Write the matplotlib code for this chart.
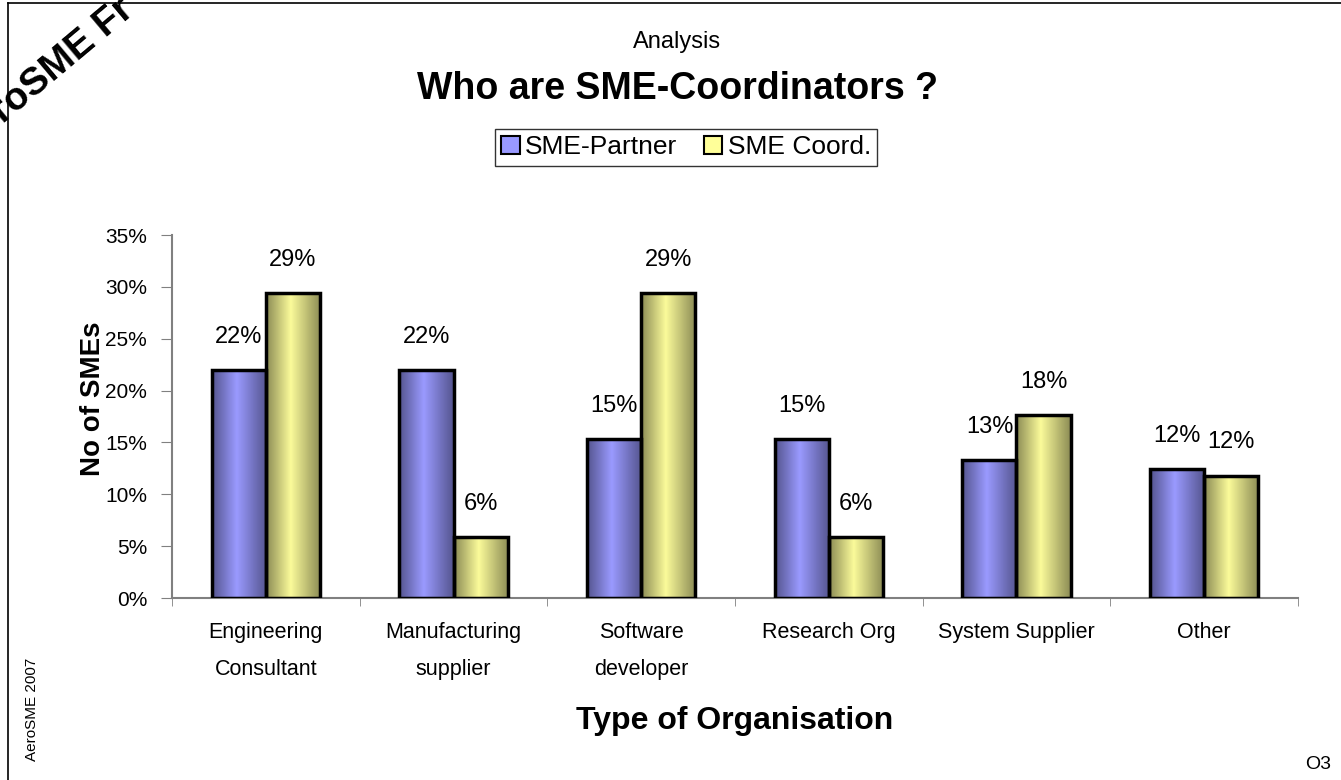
#!/usr/bin/env python3
"""Who are SME-Coordinators ?"""
import numpy as np
import matplotlib.pyplot as plt
from matplotlib.colors import LinearSegmentedColormap
from matplotlib.lines import Line2D
from matplotlib.patches import Patch

plt.rcParams['font.family'] = ['Liberation Sans', 'DejaVu Sans']

categories = ['Engineering\nConsultant', 'Manufacturing\nsupplier',
              'Software\ndeveloper', 'Research Org', 'System Supplier',
              'Other']
partner = [0.220, 0.220, 0.153, 0.153, 0.133, 0.124]
coord = [0.294, 0.059, 0.294, 0.059, 0.176, 0.118]
series_names = ['SME-Partner', 'SME Coord.']
yticks = [0, 0.05, 0.10, 0.15, 0.20, 0.25, 0.30, 0.35]


def shade(dark, light):
    """Cylinder-like horizontal gradient for a bar"""
    return LinearSegmentedColormap.from_list(
        'g', [(0, dark), (0.45, light), (1, dark)])


fig = plt.figure(figsize=(13.41, 7.8), dpi=100)
ax = fig.add_axes([0.1283, 0.2333, 0.8396, 0.4654])

x = np.arange(len(categories))
w = 0.288
styles = [
    (partner, -w / 2, shade('#55558f', '#9a9aff')),
    (coord, w / 2, shade('#8c8c55', '#fbfb9a')),
]
grad = np.linspace(0, 1, 64).reshape(1, -1)
for vals, off, cmap in styles:
    bars = ax.bar(x + off, vals, width=w, facecolor='none',
                  edgecolor='black', linewidth=2.5, zorder=3)
    for b, v in zip(bars, vals):
        im = ax.imshow(grad, cmap=cmap, aspect='auto', zorder=2,
                       extent=(b.get_x(), b.get_x() + w, 0, v))
        im.set_clip_path(b)
        ax.annotate(f'{round(v * 100)}%', (b.get_x() + w / 2, v),
                    xytext=(0, 16), textcoords='offset points',
                    ha='center', va='bottom', fontsize=17)

ax.set_xlim(-0.5, len(categories) - 0.5)
ax.set_ylim(0, 0.35)
ax.set_yticks(yticks)
ax.set_yticklabels([f'{round(t * 100)}%' for t in yticks], fontsize=15)
ax.set_xticks(x)
ax.set_xticklabels(categories, fontsize=15.5, linespacing=2.0)
ax.set_xticks(np.arange(len(categories) + 1) - 0.5, minor=True)
ax.tick_params(axis='x', which='major', length=0, pad=17)
ax.tick_params(axis='x', which='minor', length=6, direction='out',
               color='#808080')
ax.tick_params(axis='y', length=8, direction='out', color='#808080',
               pad=10)
for s in ['top', 'right']:
    ax.spines[s].set_visible(False)
for s in ['left', 'bottom']:
    ax.spines[s].set_color('#808080')
    ax.spines[s].set_linewidth(1.5)

ax.set_ylabel('No of SMEs', fontsize=20, fontweight='bold')
ax.yaxis.set_label_coords(-0.059, 0.55)
ax.set_xlabel('Type of Organisation', fontsize=23, fontweight='bold',
              labelpad=19)

fig.text(0.505, 0.946, 'Analysis', ha='center', va='center', fontsize=17)
fig.text(0.505, 0.886, 'Who are SME-Coordinators ?', ha='center',
         va='center', fontsize=27, fontweight='bold')

handles = [Patch(facecolor='#9999ff', edgecolor='black', linewidth=1.5),
           Patch(facecolor='#ffff99', edgecolor='black', linewidth=1.5)]
leg = fig.legend(handles, series_names, loc='center',
                 bbox_to_anchor=(0.5116, 0.811), ncol=2, fontsize=19,
                 frameon=True, fancybox=False, edgecolor='black',
                 handlelength=0.7, handleheight=0.7, handletextpad=0.2,
                 columnspacing=1.0, borderpad=0.25)
leg.get_frame().set_linewidth(1.0)

# page frame and decorations
fig.add_artist(Line2D([8 / 1341, 8 / 1341], [0, 1 - 3 / 780],
                      transform=fig.transFigure, color='black', lw=1.2))
fig.add_artist(Line2D([8 / 1341, 1], [1 - 3 / 780, 1 - 3 / 780],
                      transform=fig.transFigure, color='black', lw=1.2))
fig.text(-0.026, 0.80, 'AeroSME Fr', rotation=40, fontsize=28,
         fontweight='bold', ha='left', va='baseline',
         rotation_mode='anchor')
fig.text(0.024, 0.09, 'AeroSME 2007', rotation=90, ha='center',
         va='center', fontsize=11)
fig.text(0.983, 0.02, 'O3', ha='center', va='center', fontsize=14)

fig.savefig('out.png', dpi=100)
